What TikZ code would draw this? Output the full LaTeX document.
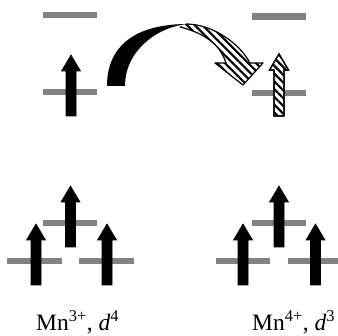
\documentclass[tikz,border=0pt]{standalone}
\usepackage{fontspec}
\setmainfont{Liberation Serif}
\usetikzlibrary{patterns.meta}
\definecolor{bargray}{RGB}{130,130,130}
\newcommand{\spinpath}[3]{(#1-5,#2) -- (#1-5,#3-16) -- (#1-9.5,#3-16) -- (#1,#3) -- (#1+9.5,#3-16) -- (#1+5,#3-16) -- (#1+5,#2) -- cycle}
\newcommand{\transferpath}{(186,312) .. controls (213,312) and (240,292) .. (250,273)
  -- (263,273) -- (243,251) -- (215,273) -- (226,273)
  .. controls (221,289) and (208,302) .. (180,309)}
\tikzset{
  level/.style={draw=bargray, line width=6.5pt},
  solidspin/.style={fill=black, draw=black, line width=0.6pt},
  hatchspin/.style={draw=black, line width=1.2pt, fill=white},
  hatchfill/.style={pattern={Lines[angle=-45,distance=5.5pt,line width=2.2pt]}, pattern color=black},
  label/.style={inner sep=0pt, anchor=base west, font=\fontsize{23.5}{28}\selectfont}
}
\begin{document}
\begin{tikzpicture}[x=1pt,y=1pt]
\useasboundingbox (0,0) rectangle (338,336);
% levels, top part
\draw[level] (43,321) -- (97,321);
\draw[level] (43,244) -- (97,244);
\draw[level] (252,319.5) -- (306,319.5);
\draw[level] (252,243) -- (306,243);
% levels, bottom part
\draw[level] (43,113) -- (97,113);
\draw[level] (7,75) -- (62,75);
\draw[level] (79,75) -- (134,75);
\draw[level] (252,113) -- (306,113);
\draw[level] (216,75) -- (270,75);
\draw[level] (288,75) -- (342,75);
% top spins
\fill[solidspin] \spinpath{71}{220}{281};
\fill[hatchspin] \spinpath{279}{220}{282};
\fill[hatchfill] \spinpath{279}{220}{282};
\draw[hatchspin, fill=none] \spinpath{279}{220}{282};
% curved transfer arrow: hatched front part with head
\path[fill=white] \transferpath -- cycle;
\path[hatchfill] \transferpath -- cycle;
\draw[black, line width=1.2pt, line join=round] \transferpath;
% black back part
\fill[black] (107,250) .. controls (107,290) and (135,312) .. (188,312)
  .. controls (160,310) and (125,287) .. (125,250) -- cycle;
% bottom spins, Mn3+
\fill[solidspin] \spinpath{36}{51}{112};
\fill[solidspin] \spinpath{70.5}{89}{150};
\fill[solidspin] \spinpath{107}{51}{112};
% bottom spins, Mn4+
\fill[solidspin] \spinpath{243}{51}{112};
\fill[solidspin] \spinpath{279}{89}{150};
\fill[solidspin] \spinpath{315.5}{51}{112};
% labels
\node[label] (mn3) at (36,5) {Mn\textsuperscript{3+}, \textit{d}\textsuperscript{4}};
\node[label] (mn4) at (252,5) {Mn\textsuperscript{4+}, \textit{d}\textsuperscript{3}};
\end{tikzpicture}
\end{document}
